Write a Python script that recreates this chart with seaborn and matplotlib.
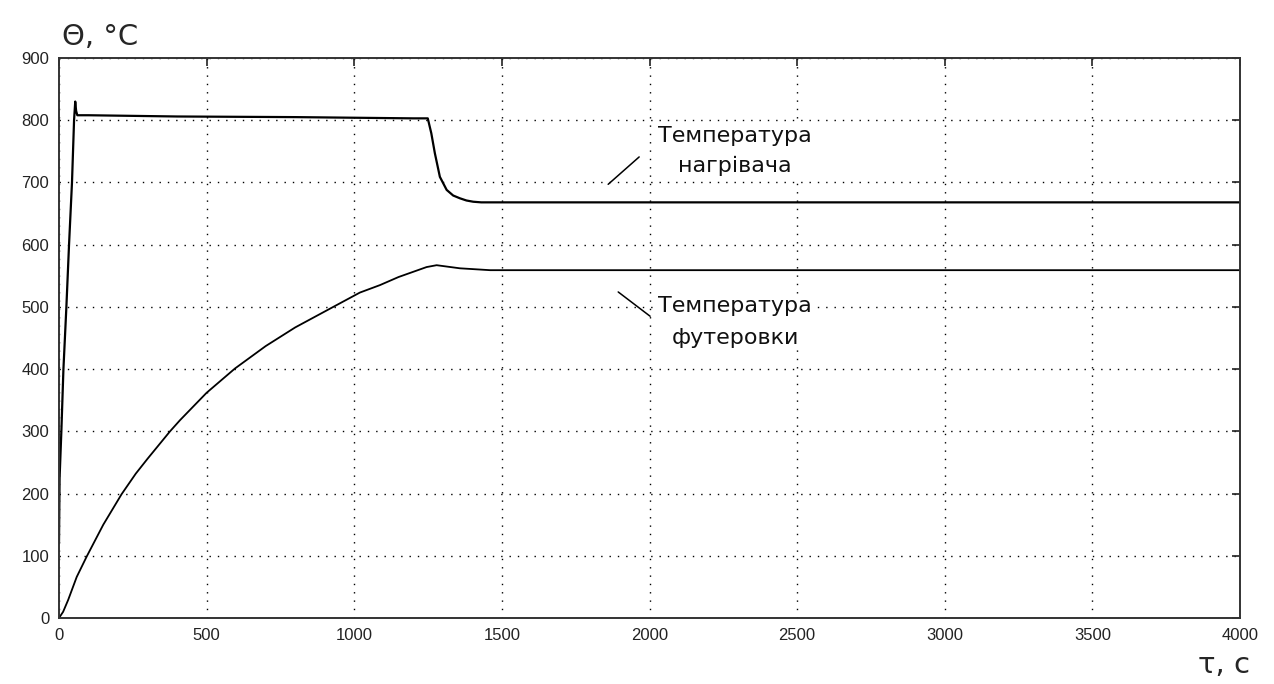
import matplotlib
matplotlib.use("Agg")
import matplotlib.pyplot as plt
import seaborn as sns
import pandas as pd

# ---- data ----
heater_t = [0, 2, 8, 15, 25, 34, 44, 51, 55, 58, 62, 70, 100, 400, 800, 1200, 1249,
            1261, 1273, 1290, 1313, 1335, 1358, 1380, 1403, 1430, 1460, 4000]
heater_T = [120, 225, 300, 400, 500, 600, 700, 800, 830, 815, 808, 808, 808, 806, 805, 803, 803,
            779, 747, 709, 688, 679, 674.5, 671, 669, 668, 668, 668]

lining_t = [0, 14, 31, 60, 94, 150, 212, 260, 300, 376, 410, 500, 596, 700, 800, 929, 1019, 1087,
            1150, 1245, 1279, 1358, 1460, 4000]
lining_T = [0, 10, 29, 66, 99, 150, 199, 232, 256, 300, 318, 362, 401, 437, 467, 500, 523, 535,
            548, 564, 567, 562, 559, 559]

x_ticks = [0, 500, 1000, 1500, 2000, 2500, 3000, 3500, 4000]
y_ticks = [0, 100, 200, 300, 400, 500, 600, 700, 800, 900]

label_heater = "Температура\nнагрівача"
label_lining = "Температура\nфутеровки"
y_label = "Θ, °C"
x_label = "τ, с"

heater = pd.DataFrame({"t": heater_t, "T": heater_T})
lining = pd.DataFrame({"t": lining_t, "T": lining_T})

sns.set_style("white")
plt.rcParams["font.family"] = ["Liberation Sans", "DejaVu Sans"]

fig = plt.figure(figsize=(12.74, 6.84), dpi=100)
ax = fig.add_axes([59 / 1274, 1 - 618 / 684, (1240 - 59) / 1274, (618 - 58) / 684])

sns.lineplot(data=heater, x="t", y="T", ax=ax, color="black", lw=1.6, estimator=None)
sns.lineplot(data=lining, x="t", y="T", ax=ax, color="black", lw=1.3, estimator=None)

ax.set_xlim(0, 4000)
ax.set_ylim(0, 900)
ax.set_xticks(x_ticks)
ax.set_yticks(y_ticks)
ax.set_xlabel("")
ax.set_ylabel("")
ax.tick_params(direction="in", length=6, width=1.2, top=True, right=True,
               labelsize=12, colors="#222222", pad=7)
ax.grid(True, color="black", linestyle=(0, (1, 5)), linewidth=1.0)
for s in ax.spines.values():
    s.set_color("#333333")
    s.set_linewidth(1.4)
    s.set_visible(True)

# axis titles
fig.text(62 / 1274, 1 - 37 / 684, y_label, fontsize=21, va="center", ha="left",
         family=["DejaVu Sans"])
fig.text(1250 / 1274, 1 - 665 / 684, x_label, fontsize=21, va="center", ha="right",
         family=["DejaVu Sans"])

# annotations: labels
box = dict(facecolor="white", edgecolor="none", pad=1.5)
ax.text(2290, 750, label_heater, fontsize=16, ha="center", va="center",
        multialignment="center", linespacing=1.6, family=["DejaVu Sans"], color="#111111",
        bbox=box)
ax.text(2290, 475, label_lining, fontsize=16, ha="center", va="center",
        multialignment="center", linespacing=1.75, family=["DejaVu Sans"], color="#111111",
        bbox=box)
# leader lines
ax.annotate("", xy=(1860, 697), xytext=(1965, 741),
            arrowprops=dict(arrowstyle="-", color="black", lw=1.1, shrinkA=0, shrinkB=0))
ax.annotate("", xy=(1894, 524), xytext=(2002, 485),
            arrowprops=dict(arrowstyle="-", color="black", lw=1.1, shrinkA=0, shrinkB=0))

fig.savefig("out.png", dpi=100)
